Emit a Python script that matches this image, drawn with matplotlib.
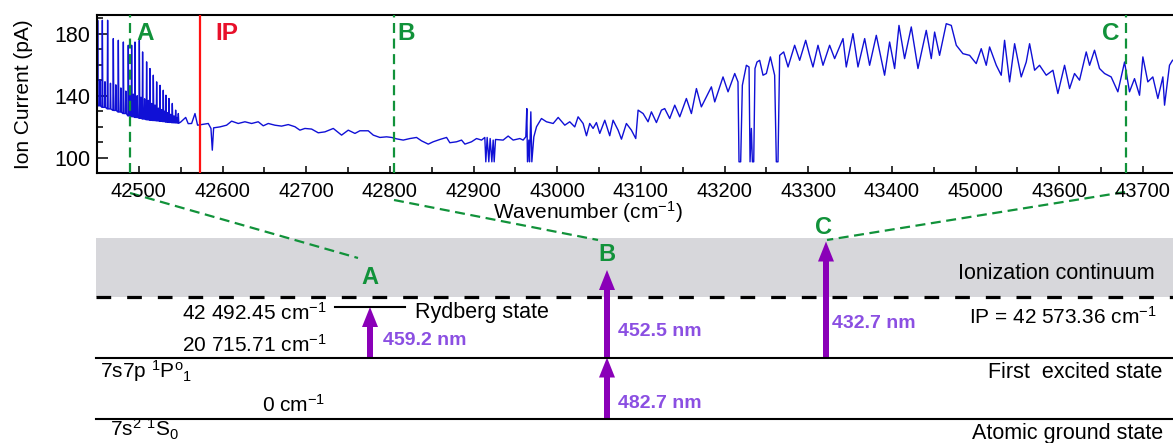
import numpy as np
import matplotlib.pyplot as plt
from matplotlib.ticker import MultipleLocator, FixedLocator

plt.rcParams['font.family'] = ['Liberation Sans', 'DejaVu Sans']
plt.rcParams['mathtext.fontset'] = 'custom'
plt.rcParams['mathtext.rm'] = 'Liberation Sans'
plt.rcParams['mathtext.it'] = 'Liberation Sans:italic'
plt.rcParams['mathtext.bf'] = 'Liberation Sans:bold'

# --- Rydberg series below the IP ---
spike_wn = [42450.8, 42456.4, 42462.7, 42469.5, 42475.5, 42481.5, 42487.4, 42491.4,
            42495.4, 42500.6, 42504.5, 42509.3, 42513.3, 42517.3, 42521.3, 42525.3,
            42529.2, 42532.4, 42536.0, 42540.0, 42544.0, 42547.2]
spike_top = [188.6, 188.6, 188.6, 176.8, 175.7, 174.6, 172.5, 172.5, 174.6, 175.7,
             168.2, 161.8, 157.5, 153.2, 148.9, 146.7, 143.5, 140.3, 138.2, 135.0,
             130.7, 128.5]
spike_base = [133.5, 132.5, 131.5, 130.5, 129.5, 128.5, 127.0, 126.5, 126.0, 125.5,
              125.0, 124.5, 124.2, 124.0, 123.8, 123.5, 123.3, 123.0, 122.8, 122.6,
              122.5, 122.3]
companion_top = [150, 149, 148, 147, 145, 143, 142, 141, 140, 139, 138, 137, 135,
                 134, 132, 131, 130, 129, 128, 127, 126]

# --- rest of the spectrum ---
cont_wn = [42550.0, 42553.0, 42556.0, 42559.0, 42563.1, 42567.1, 42570.2, 42575.0,
           42583.0, 42586.2, 42587.8, 42589.4, 42596.9, 42604.9, 42610.9, 42618.8,
           42626.8, 42634.8, 42642.7, 42648.7, 42654.7, 42662.6, 42670.6, 42678.6,
           42686.6, 42692.5, 42698.5, 42706.5, 42714.4, 42722.4, 42732.4, 42742.3,
           42750.3, 42758.3, 42764.2, 42774.2, 42780.2, 42788.1, 42796.1, 42802.1,
           42808.0, 42816.0, 42824.0, 42831.9, 42837.9, 42845.9, 42851.8, 42859.8,
           42867.8, 42871.7, 42879.7, 42885.7, 42889.7, 42897.6, 42903.6, 42909.6,
           42913.5, 42914.7, 42916.3, 42918.3, 42919.9, 42921.9, 42923.5, 42924.7,
           42926.3, 42935.4, 42941.4, 42947.4, 42955.4, 42959.3, 42962.5, 42963.7,
           42964.5, 42966.1, 42966.9, 42968.5, 42969.7, 42972.1, 42975.3, 42981.2,
           42987.2, 42995.2, 43001.2, 43009.1, 43015.0, 43021.0, 43025.0, 43031.0,
           43035.0, 43038.9, 43042.9, 43046.9, 43050.9, 43056.9, 43062.8, 43066.8,
           43072.8, 43076.8, 43082.7, 43088.7, 43093.9, 43096.7, 43102.7, 43108.6,
           43112.6, 43118.6, 43124.6, 43128.5, 43134.5, 43140.5, 43146.5, 43154.4,
           43160.4, 43166.4, 43172.3, 43178.3, 43184.3, 43188.3, 43198.2, 43204.2,
           43212.2, 43216.1, 43217.3, 43219.3, 43221.3, 43226.1, 43229.3, 43230.5,
           43232.1, 43233.3, 43234.9, 43236.4, 43238.8, 43242.0, 43246.0, 43250.0,
           43254.8, 43259.9, 43261.9, 43263.9, 43265.9, 43270.7, 43275.9, 43283.8,
           43289.8, 43297.0, 43301.7, 43305.7, 43311.7, 43317.7, 43325.6, 43331.6,
           43341.6, 43345.5, 43353.5, 43359.5, 43367.5, 43373.4, 43381.4, 43391.3,
           43397.3, 43403.3, 43408.5, 43415.2, 43423.2, 43431.2, 43441.1, 43447.1,
           43451.1, 43457.0, 43465.0, 43471.0, 43477.0, 43484.9, 43492.9, 43500.8,
           43506.8, 43512.8, 43516.8, 43524.8, 43530.7, 43534.7, 43540.7, 43546.7,
           43554.6, 43560.6, 43564.6, 43570.6, 43576.5, 43584.5, 43592.5, 43598.4,
           43606.4, 43612.4, 43618.3, 43624.3, 43632.3, 43636.3, 43642.2, 43648.2,
           43654.2, 43662.1, 43670.1, 43678.1, 43684.0, 43690.0, 43696.0, 43700.0,
           43705.9, 43711.9, 43717.9, 43723.9, 43725.9, 43731.8, 43735.4]
cont_pa = [123.0, 124.5, 126.0, 122.0, 122.1, 128.5, 121.0, 121.4,
           122.1, 118.9, 104.9, 119.3, 119.9, 121.0, 123.6, 122.1,
           123.2, 122.1, 123.2, 120.6, 122.1, 121.0, 120.4, 121.4,
           120.0, 117.8, 118.9, 118.5, 116.1, 116.7, 118.9, 114.6,
           117.8, 115.7, 117.4, 117.4, 114.6, 113.1, 113.5, 113.1,
           112.2, 111.4, 112.4, 113.1, 110.9, 108.8, 110.3, 111.8,
           113.1, 109.7, 110.3, 111.4, 108.8, 110.3, 112.4, 111.4,
           113.1, 97.4, 113.1, 97.4, 112.4, 97.4, 111.4, 97.4,
           111.8, 111.4, 114.0, 111.4, 112.4, 111.4, 113.5, 131.7,
           97.4, 111.4, 97.4, 129.6, 97.4, 113.5, 120.0, 125.3,
           123.2, 122.1, 126.0, 121.0, 123.2, 119.9, 126.4, 122.1,
           114.2, 122.1, 118.9, 122.7, 115.7, 124.2, 114.2, 124.2,
           117.8, 112.0, 122.1, 117.8, 112.4, 130.7, 128.5, 123.2,
           129.6, 122.7, 130.7, 131.7, 125.3, 133.9, 126.4, 138.2,
           128.5, 144.6, 132.8, 139.2, 145.7, 136.0, 152.1, 142.5,
           154.3, 148.9, 97.4, 97.4, 146.7, 159.6, 158.5, 97.4,
           118.9, 97.4, 97.4, 157.5, 161.7, 162.8, 153.2, 154.3,
           165.0, 153.2, 97.4, 97.4, 166.0, 168.2, 158.5, 172.5,
           162.8, 175.7, 166.0, 158.5, 172.5, 159.6, 172.5, 163.9,
           176.8, 158.5, 180.0, 158.5, 176.8, 159.6, 178.9, 153.2,
           174.6, 157.5, 185.3, 163.9, 184.3, 157.5, 182.1, 163.9,
           181.0, 166.0, 186.4, 185.3, 172.5, 167.1, 166.0, 160.7,
           170.3, 159.6, 171.4, 159.6, 153.2, 175.7, 148.9, 173.5,
           152.1, 161.7, 173.5, 156.4, 159.6, 153.2, 156.4, 141.4,
           159.6, 144.6, 154.3, 150.0, 168.2, 159.6, 169.3, 157.5,
           154.3, 152.1, 142.5, 161.7, 142.5, 151.0, 140.3, 165.0,
           148.9, 152.1, 138.2, 152.1, 133.9, 159.6, 162.8]

xtick_pos = [42500, 42600, 42700, 42800, 42900, 43000, 43100, 43200, 43300, 43400,
             43500, 43600, 43700]
xtick_lab = ['42500', '42600', '42700', '42800', '42900', '43000', '43100', '43200',
             '43300', '43400', '45000', '43600', '43700']

ip_wn = 42573.36
marker_wn = {'A': 42490, 'B': 42805, 'C': 43680}

# build the Rydberg part of the trace: base - spike - base - companion - ...
ryd_wn, ryd_pa = [], []
for i in range(len(spike_wn)):
    ryd_wn += [spike_wn[i] - 0.5, spike_wn[i], spike_wn[i] + 0.6]
    ryd_pa += [spike_base[i], spike_top[i], spike_base[i]]
    if i < len(companion_top):
        mid = (spike_wn[i] + spike_wn[i + 1]) / 2
        ryd_wn += [mid - 0.5, mid, mid + 0.5]
        ryd_pa += [spike_base[i], companion_top[i], spike_base[i]]
wn = np.array(ryd_wn + cont_wn)
pa = np.array(ryd_pa + cont_pa)

green = '#11923a'
purple = '#8a00b8'
purple_txt = '#8b4fe2'
blue = '#1010d6'

W, H = 1173, 443
fig = plt.figure(figsize=(W / 100, H / 100), dpi=100)

# energy-level diagram, drawn in pixel units over the whole figure
ax2 = fig.add_axes([0, 0, 1, 1])
ax2.set_xlim(0, W)
ax2.set_ylim(H, 0)
ax2.axis('off')

# top spectrum
ax = fig.add_axes([97 / W, 1 - 173.3 / H, 1 - 97 / W, (173.3 - 15) / H])
ax.plot(wn, pa, color=blue, lw=1.0, zorder=2)
ax.axvline(ip_wn, color='#ff1111', lw=1.6, zorder=3)
for k, w in marker_wn.items():
    ax.axvline(w, color=green, lw=1.6, ls=(0, (4.5, 2.5)), zorder=4)
ax.set_xlim(42450, 43736)
ax.set_ylim(90, 192)
ax.xaxis.set_major_locator(FixedLocator(xtick_pos))
ax.set_xticklabels(xtick_lab)
ax.xaxis.set_minor_locator(MultipleLocator(50))
ax.yaxis.set_major_locator(FixedLocator([100, 140, 180]))
ax.yaxis.set_minor_locator(MultipleLocator(10))
ax.tick_params(axis='both', which='both', direction='in', width=1.1)
ax.tick_params(axis='x', labelsize=14.5)
ax.tick_params(axis='y', labelsize=15.5)
ax.tick_params(axis='y', which='major', length=8, pad=5)
ax.tick_params(axis='y', which='minor', length=4.5)
ax.tick_params(axis='x', which='major', length=5, pad=6)
ax.tick_params(axis='x', which='minor', length=4)
ax.spines['right'].set_visible(False)
for s in ['left', 'top', 'bottom']:
    ax.spines[s].set_linewidth(1.5)
ax.set_ylabel('Ion Current (pA)', fontsize=15)
ax.yaxis.set_label_coords(-0.0595, 0.5)
ax.set_xlabel('Wavenumber (cm$^{-1}$)', fontsize=15)
ax.xaxis.set_label_coords(0.456, -0.165)

ax.text(42507, 175.7, 'A', color=green, fontsize=17.5, fontweight='bold', ha='center', va='baseline')
ax.text(42605, 175.7, 'IP', color='#e8102a', fontsize=17.5, fontweight='bold', ha='center', va='baseline')
ax.text(42820, 175.7, 'B', color=green, fontsize=17.5, fontweight='bold', ha='center', va='baseline')
ax.text(43662, 175.7, 'C', color=green, fontsize=17.5, fontweight='bold', ha='center', va='baseline')

# diagram geometry (pixels)
x_left, x_right = 96, W
y_band_top, y_ip = 238, 297
y_ryd, y_exc, y_gnd = 307, 357.5, 418.5

ax2.fill_between([x_left, x_right], y_band_top, y_ip, color='#d7d7db', lw=0)
ax2.plot([x_left, x_right], [y_ip, y_ip], color='black', lw=2.3, ls=(0, (4.6, 5.0)))
ax2.plot([335, 405], [y_ryd, y_ryd], color='black', lw=1.5)
ax2.plot([x_left, x_right], [y_exc, y_exc], color='black', lw=1.5)
ax2.plot([x_left, x_right], [y_gnd, y_gnd], color='black', lw=1.5)

arrows = [(370, y_exc, y_ryd), (607, y_exc, 270), (607, y_gnd, y_exc), (826, y_exc, 241.5)]
for x, y0, y1 in arrows:
    ax2.arrow(x, y0, 0, y1 - y0, width=6, head_width=16, head_length=20,
              length_includes_head=True, color=purple, lw=0)

# connectors from the spectrum to the diagram
ax2.plot([130, 358], [193, 258], color=green, lw=1.6, ls=(0, (4.5, 2.5)))
ax2.plot([394, 598], [200, 240], color=green, lw=1.6, ls=(0, (4.5, 2.5)))
ax2.plot([1125, 827], [192, 240], color=green, lw=1.6, ls=(0, (4.5, 2.5)))

ax2.text(370, 284, 'A', color=green, fontsize=17, fontweight='bold', ha='center', va='baseline')
ax2.text(607, 261, 'B', color=green, fontsize=17, fontweight='bold', ha='center', va='baseline')
ax2.text(823, 234, 'C', color=green, fontsize=17, fontweight='bold', ha='center', va='baseline')

fs = 15
fs2 = 15.5
ax2.text(327, 320, '42 492.45 cm$^{-1}$', fontsize=fs, ha='right', va='baseline')
ax2.text(327, 351.7, '20 715.71 cm$^{-1}$', fontsize=fs, ha='right', va='baseline')
ax2.text(100, 378.3, r'7s7p $^{1}$P$^{\mathrm{o}}$$_{1}$', fontsize=fs, ha='left', va='baseline')
ax2.text(325, 411.7, '0 cm$^{-1}$', fontsize=fs, ha='right', va='baseline')
ax2.text(110, 436.5, '7s$^{2}$ $^{1}$S$_{0}$', fontsize=fs, ha='left', va='baseline')
ax2.text(415, 318.3, 'Rydberg state', fontsize=fs2, ha='left', va='baseline')
ax2.text(1155, 279.3, 'Ionization continuum', fontsize=fs2, ha='right', va='baseline')
ax2.text(1157, 323.3, 'IP = 42 573.36 cm$^{-1}$', fontsize=fs, ha='right', va='baseline')
ax2.text(1162, 378.3, 'First  excited state', fontsize=fs2, ha='right', va='baseline')
ax2.text(1163, 438.5, 'Atomic ground state', fontsize=fs2, ha='right', va='baseline')

nm_fs = 14
ax2.text(383, 345, '459.2 nm', color=purple_txt, fontsize=nm_fs, fontweight='bold', ha='left', va='baseline')
ax2.text(618, 335.7, '452.5 nm', color=purple_txt, fontsize=nm_fs, fontweight='bold', ha='left', va='baseline')
ax2.text(618, 408.3, '482.7 nm', color=purple_txt, fontsize=nm_fs, fontweight='bold', ha='left', va='baseline')
ax2.text(832, 328.3, '432.7 nm', color=purple_txt, fontsize=nm_fs, fontweight='bold', ha='left', va='baseline')

fig.savefig('out.png', dpi=100)
